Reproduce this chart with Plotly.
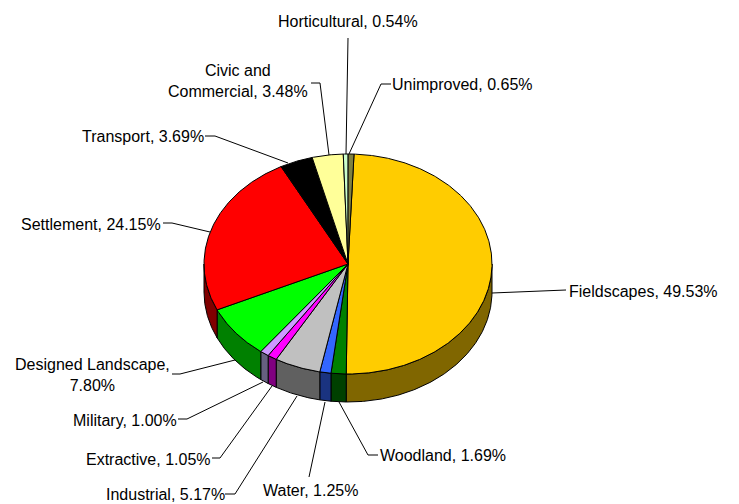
import numpy as np
import plotly.graph_objects as go

categories = ["Fieldscapes", "Woodland", "Water", "Industrial", "Extractive", "Military",
              "Designed Landscape", "Settlement", "Transport", "Civic and Commercial",
              "Horticultural", "Unimproved"]
values = [49.53, 1.69, 1.25, 5.17, 1.05, 1.00, 7.80, 24.15, 3.69, 3.48, 0.54, 0.65]
top_colors = ["#ffcc00", "#008000", "#3366ff", "#c0c0c0", "#ff00ff", "#cc99ff",
              "#00ff00", "#ff0000", "#000000", "#ffff99", "#ccffcc", "#808040"]
side_colors = ["#806600", "#004000", "#1a3380", "#606060", "#800080", "#666080",
               "#008000", "#800000", "#000000", "#808050", "#668066", "#404020"]
label_texts = ["Fieldscapes, 49.53%", "Woodland, 1.69%", "Water, 1.25%", "Industrial, 5.17%",
               "Extractive, 1.05%", "Military, 1.00%", "Designed Landscape,<br>7.80%",
               "Settlement, 24.15%", "Transport, 3.69%", "Civic and<br>Commercial, 3.48%",
               "Horticultural, 0.54%", "Unimproved, 0.65%"]

# layout (pixel space of the 739x504 page)
CX, CY, RX, RY, DEPTH, START = 348, 264, 144, 110, 28, 2.4
label_xy = [(643, 291), (443, 455), (310, 490), (165, 494), (148, 459), (125, 420),
            (92, 375), (91, 224), (142.5, 136), (238, 81), (348, 21), (462, 84)]
leaders = [[(492, 293), (566, 290)],
           [(339, 402), (368, 455), (378, 455)],
           [(325, 402), (309, 477)],
           [(297, 396), (235, 494), (225, 494)],
           [(272, 386), (220, 458), (212, 458)],
           [(263, 382), (187, 419), (178, 419)],
           [(235, 360), (180, 374), (172, 374)],
           [(210, 232), (172, 223), (163, 223)],
           [(288, 163), (215, 136), (205, 136)],
           [(329, 155), (320, 83), (311, 83)],
           [(346, 154), (348, 38)],
           [(349, 154), (381, 84), (391, 84)]]


def arc(a0, a1, dy=0.0):
    t = np.radians(np.linspace(a0, a1, max(2, int(abs(a1 - a0) * 2) + 2)))
    return CX + RX * np.sin(t), CY - RY * np.cos(t) + dy


fig = go.Figure()
total = sum(values)
edges = START + np.concatenate([[0], np.cumsum(values)]) * 360.0 / total

# side walls, only on the front half of the rim
for i in range(len(values)):
    a0, a1 = max(edges[i], 90), min(edges[i + 1], 270)
    if a1 <= a0:
        continue
    x0, y0 = arc(a0, a1)
    x1, y1 = arc(a1, a0, DEPTH)
    fig.add_trace(go.Scatter(x=np.r_[x0, x1, x0[0]], y=np.r_[y0, y1, y0[0]], mode="lines",
                             fill="toself", fillcolor=side_colors[i], name=categories[i],
                             line=dict(color="#000000", width=1), hoverinfo="skip"))

# top face
for i in range(len(values)):
    x0, y0 = arc(edges[i], edges[i + 1])
    fig.add_trace(go.Scatter(x=np.r_[CX, x0, CX], y=np.r_[CY, y0, CY], mode="lines",
                             fill="toself", fillcolor=top_colors[i], name=categories[i],
                             line=dict(color="#000000", width=1), hoverinfo="name"))

# leader lines
for pts in leaders:
    xs, ys = zip(*pts)
    fig.add_trace(go.Scatter(x=xs, y=ys, mode="lines", hoverinfo="skip",
                             line=dict(color="#000000", width=1)))

for text, (x, y) in zip(label_texts, label_xy):
    fig.add_annotation(x=x, y=y, text=text, showarrow=False, xanchor="center", yanchor="middle",
                       align="center", font=dict(family="Liberation Sans, Arial", size=16, color="#000000"))

fig.update_layout(width=739, height=504, margin=dict(l=0, r=0, t=0, b=0), showlegend=False,
                  paper_bgcolor="#ffffff", plot_bgcolor="#ffffff",
                  xaxis=dict(range=[0, 739], visible=False, fixedrange=True),
                  yaxis=dict(range=[504, 0], visible=False, fixedrange=True))
fig.write_html("out.html", config={"displayModeBar": False},
               post_script="document.body.style.margin='0';document.body.style.overflow='hidden';")
